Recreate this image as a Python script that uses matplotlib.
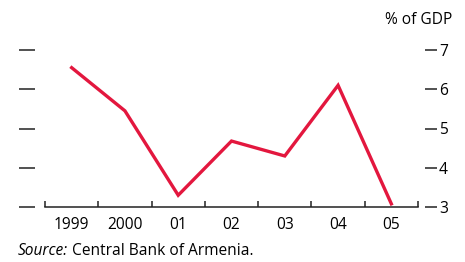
import numpy as np
import matplotlib.pyplot as plt

years = ["1999", "2000", "01", "02", "03", "04", "05"]
values = [6.55, 5.45, 3.3, 4.68, 4.3, 6.1, 3.08]
yticks = [3, 4, 5, 6, 7]

plt.rcParams["font.family"] = ["Open Sans", "DejaVu Sans"]
plt.rcParams["font.size"] = 11.2

W, H = 465, 262
fig = plt.figure(figsize=(W / 100, H / 100), dpi=100)

bottom = 1 - 207 / H
height = (207 - 50) / H

# tick marks on both sides (stand-alone, away from the plot frame)
ax2 = fig.add_axes([19 / W, bottom, (437 - 19) / W, height])
ax2.set_ylim(3, 7)
ax2.set_xlim(0, 1)
for s in ax2.spines.values():
    s.set_visible(False)
ax2.set_xticks([])
ax2.set_yticks(yticks)
ax2.tick_params(axis="y", which="both", direction="in", left=True, right=True,
                labelleft=False, labelright=True, width=1.1, color="#222222",
                pad=1.5)
for t in ax2.yaxis.get_major_ticks():
    t.tick1line.set_markersize(16 * 0.72)
    t.tick2line.set_markersize(12 * 0.72)
ax2.patch.set_visible(False)

ax = fig.add_axes([45 / W, bottom, (418 - 45) / W, height])
x = np.arange(len(years))
ax.plot(x, values, color="#E3173E", lw=2.4, solid_joinstyle="miter")
ax.set_xlim(-0.5, len(years) - 0.5)
ax.set_ylim(3, 7)
ax.patch.set_visible(False)
for s in ["left", "right", "top"]:
    ax.spines[s].set_visible(False)
ax.spines["bottom"].set_linewidth(1.1)
ax.spines["bottom"].set_color("#222222")
ax.set_yticks([])
ax.set_xticks(np.arange(len(years) + 1) - 0.5)
ax.set_xticklabels([])
ax.tick_params(axis="x", which="major", direction="in", length=4, width=1.1,
               color="#222222")
ax.set_xticks(x, minor=True)
ax.set_xticklabels(years, minor=True)
ax.tick_params(axis="x", which="minor", length=0, pad=7)

fig.text(452 / W, 1 - 20 / H, "% of GDP", ha="right", va="center")
src = fig.text(18 / W, 1 - 251 / H, "Source:", style="italic", ha="left",
               va="center")
r = fig.canvas.get_renderer()
end = src.get_window_extent(r).x1
fig.text((end + 4) / W, 1 - 251 / H, "Central Bank of Armenia.", ha="left",
         va="center")

fig.savefig("out.png", dpi=100)
